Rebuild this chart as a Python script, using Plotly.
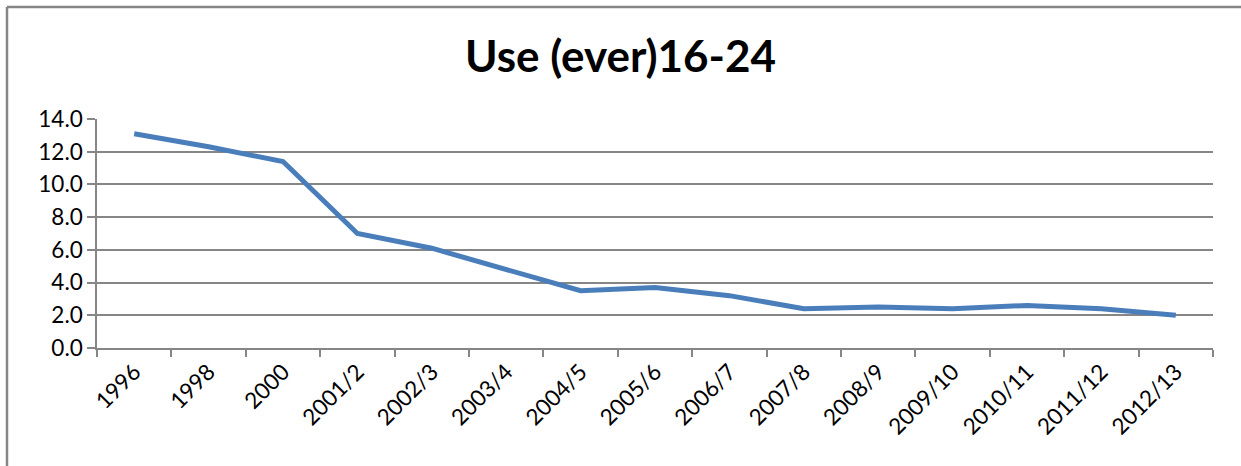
import plotly.graph_objects as go

categories = ["1996", "1998", "2000", "2001/2", "2002/3", "2003/4", "2004/5", "2005/6",
              "2006/7", "2007/8", "2008/9", "2009/10", "2010/11", "2011/12", "2012/13"]
values = [13.1, 12.3, 11.4, 7.0, 6.1, 4.8, 3.5, 3.7, 3.2, 2.4, 2.5, 2.4, 2.6, 2.4, 2.0]
y_ticks = [0, 2, 4, 6, 8, 10, 12, 14]

W, H = 1241, 466
L, R, T, B = 97, 28, 119, 118

fig = go.Figure(go.Scatter(
    x=categories, y=values, mode="lines",
    line=dict(color="#4a7ebb", width=5),
    hoverinfo="x+y",
))

font_family = "Lato, 'Open Sans', sans-serif"
fig.update_layout(
    width=W, height=H,
    margin=dict(l=L, r=R, t=T, b=B),
    paper_bgcolor="white", plot_bgcolor="white",
    showlegend=False,
    font=dict(family=font_family, color="black"),
    title=dict(text="<b>Use (ever)16-24</b>", x=0.5, xanchor="center",
               y=1 - 57 / H, yanchor="middle",
               font=dict(size=44, family=font_family, color="black")),
)
fig.update_xaxes(
    type="category", tickangle=-45, tickson="boundaries",
    ticks="outside", ticklen=7, tickcolor="#868686", tickwidth=1.5,
    showline=True, linecolor="#868686", linewidth=1.5,
    showgrid=False, tickfont=dict(size=22.5, family=font_family, color="black"),
    range=[-0.5, len(categories) - 0.5],
)
fig.update_yaxes(
    range=[0, 14], tickvals=y_ticks, tickformat=".1f",
    ticks="outside", ticklen=8, tickcolor="#868686", tickwidth=1.5,
    showline=True, linecolor="#868686", linewidth=1.5,
    showgrid=True, gridcolor="#868686", gridwidth=1.5,
    zeroline=False, tickfont=dict(size=22.5, family=font_family, color="black"),
)

# outer chart frame (top and left edges visible)
x0 = (7 - L) / (W - L - R)
y_top = 1 + (T - 7) / (H - T - B)
y_bot = -(B + 5) / (H - T - B)
x1 = 1 + (R + 5) / (W - L - R)
fig.add_shape(type="line", xref="paper", yref="paper", x0=x0, x1=x1, y0=y_top, y1=y_top,
              line=dict(color="#868686", width=2.5))
fig.add_shape(type="line", xref="paper", yref="paper", x0=x0, x1=x0, y0=y_bot, y1=y_top,
              line=dict(color="#868686", width=2.5))

fig.write_html("out.html")
